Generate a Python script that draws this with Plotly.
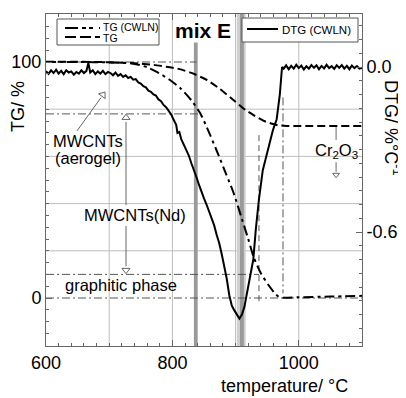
import plotly.graph_objects as go

# ---------------- data ----------------
tg_cwln_T = [600, 650, 700, 738, 760, 776, 795, 813, 830, 844, 855, 870, 885, 897,
             910, 920, 929, 940, 952, 962, 968, 975, 1000, 1050, 1100]
tg_cwln = [100.0, 100.0, 99.8, 99.3, 97.8, 95.7, 92.6, 88.8, 83.8, 78.3, 72.0, 62.5,
           52.5, 44.4, 33.5, 25.0, 17.0, 10.5, 5.5, 2.0, 0.6, 0.1, 0.3, 0.6, 0.9]

tg_T = [600, 650, 700, 740, 770, 790, 808, 830, 855, 875, 897, 915, 929, 945, 958,
        967, 980, 1000, 1100]
tg = [100.1, 100.1, 99.9, 99.5, 98.8, 98.0, 97.2, 95.4, 92.3, 88.6, 83.8, 79.8, 77.4,
      75.0, 73.8, 73.2, 72.9, 72.9, 72.9]

dtg_T = [600, 604, 608, 612, 616, 620, 624, 628, 632, 636, 640, 644, 648, 652, 656, 660,
         664, 667, 670, 674, 678, 682, 686, 690, 694, 698, 702, 706, 710, 714, 718, 722,
         726, 730, 734, 738, 742, 746, 750, 754, 758, 762, 766, 770, 774, 778, 782, 786,
         790, 794, 798, 802, 806, 808, 811, 814, 818, 822, 826, 830, 834, 838, 842, 846,
         850, 854, 858, 862, 866, 870, 874, 878, 882, 886, 890, 894, 898, 902, 906, 910,
         914, 918, 923, 928, 932, 937, 943, 951, 959, 965, 970, 973.5, 976, 980, 984,
         988, 992, 996, 1000, 1004, 1008, 1012, 1016, 1020, 1024, 1028, 1032, 1036,
         1040, 1044, 1048, 1052, 1056, 1060, 1064, 1068, 1072, 1076, 1080, 1084, 1088,
         1092, 1096, 1100]
dtg = [-0.015, -0.025, -0.012, -0.022, -0.010, -0.024, -0.014, -0.026, -0.012, -0.020,
       -0.016, -0.028, -0.018, -0.024, -0.012, -0.022, -0.014, 0.015, -0.020, -0.012,
       -0.026, -0.016, -0.024, -0.014, -0.026, -0.018, -0.022, -0.030, -0.020, -0.032,
       -0.026, -0.036, -0.030, -0.040, -0.036, -0.046, -0.044, -0.056, -0.060, -0.070,
       -0.074, -0.086, -0.090, -0.100, -0.104, -0.118, -0.124, -0.138, -0.146, -0.160,
       -0.172, -0.192, -0.210, -0.240, -0.236, -0.262, -0.282, -0.305, -0.322, -0.350,
       -0.372, -0.400, -0.428, -0.455, -0.478, -0.500, -0.526, -0.548, -0.575, -0.610,
       -0.640, -0.680, -0.720, -0.770, -0.830, -0.868, -0.885, -0.900, -0.915, -0.900,
       -0.872, -0.822, -0.760, -0.700, -0.590, -0.480, -0.375, -0.300, -0.230, -0.190,
       -0.100, 0.000, -0.006, 0.006, -0.008, 0.004, -0.006, 0.008, -0.004, 0.005, -0.009,
       0.003, -0.006, 0.007, -0.003, 0.006, -0.008, 0.004, -0.005, 0.008, -0.004, 0.003,
       -0.007, 0.006, -0.003, 0.007, -0.006, 0.004, -0.008, 0.005, -0.004, 0.003,
       -0.006, -0.004]

x_ticks = [600, 800, 1000]
x_ticklabels = ["600", "800", "1000"]
x_grid = [700, 800, 900, 1000]
tg_ticks = [0, 100]
tg_ticklabels = ["0", "100"]
tg_grid = [20, 40, 60, 80]
dtg_ticks = [0.0, -0.6]
dtg_ticklabels = ["0.0", "-0.6"]

# reference levels / markers used in the annotations
level_aerogel = 78.0
level_graphitic = 10.0
t_band1 = (834, 840)
t_band2 = (902, 916)
t_band2_dark = (907, 913)

FONT = "Liberation Sans, Arial, Helvetica, sans-serif"
# target page geometry (the page body has an 8px default margin)
PAGE_W, PAGE_H, OFF = 406, 398, 8
L, R, T, B = 46, 362, 14, 346


def px(x):
    return (x - L) / (R - L)


def py(y):
    return (B - y) / (B - T)


fig = go.Figure()

fig.add_trace(go.Scatter(x=tg_cwln_T, y=tg_cwln, mode="lines", yaxis="y",
                         line=dict(color="black", width=2, dash="10px,4px,3px,4px",
                                   shape="spline", smoothing=0.6)))
fig.add_trace(go.Scatter(x=tg_T, y=tg, mode="lines", yaxis="y",
                         line=dict(color="black", width=2, dash="8px,4px",
                                   shape="spline", smoothing=0.6)))
fig.add_trace(go.Scatter(x=dtg_T, y=dtg, mode="lines", yaxis="y2",
                         line=dict(color="black", width=2)))

# arrow heads (open triangles)
ARC = "#666"
fig.add_trace(go.Scatter(x=[690.1], y=[86.1], mode="markers", yaxis="y",
                         marker=dict(symbol="triangle-up-open", size=7, angle=36,
                                     color=ARC, line=dict(width=1, color=ARC))))
fig.add_trace(go.Scatter(x=[726.6], y=[76.4], mode="markers", yaxis="y",
                         marker=dict(symbol="triangle-up-open", size=7,
                                     color=ARC, line=dict(width=1, color=ARC))))
fig.add_trace(go.Scatter(x=[726.6], y=[11.8], mode="markers", yaxis="y",
                         marker=dict(symbol="triangle-down-open", size=7,
                                     color=ARC, line=dict(width=1, color=ARC))))
fig.add_trace(go.Scatter(x=[1059], y=[52.2], mode="markers", yaxis="y",
                         marker=dict(symbol="triangle-down-open", size=6,
                                     color=ARC, line=dict(width=1, color=ARC))))

GRID = "#bdbdbd"
shapes = []
for gx in x_grid:
    shapes.append(dict(type="line", xref="x", yref="paper", x0=gx, x1=gx, y0=0, y1=1,
                       line=dict(color=GRID, width=1), layer="below"))
for gy in tg_grid:
    shapes.append(dict(type="line", xref="paper", yref="y", x0=0, x1=1, y0=gy, y1=gy,
                       line=dict(color=GRID, width=1), layer="below"))

# grey vertical bands
shapes.append(dict(type="rect", xref="x", yref="paper", x0=t_band1[0], x1=t_band1[1],
                   y0=0, y1=py(42), fillcolor="#9a9a9a", line=dict(width=0), layer="between"))
shapes.append(dict(type="rect", xref="x", yref="paper", x0=t_band2[0], x1=t_band2[1],
                   y0=0, y1=1, fillcolor="#cfcfcf", line=dict(width=0), layer="between"))
shapes.append(dict(type="rect", xref="x", yref="paper", x0=t_band2_dark[0], x1=t_band2_dark[1],
                   y0=0, y1=1, fillcolor="#9a9a9a", line=dict(width=0), layer="between"))


def dl(x0, y0, x1, y1, dash="8px,3px,2px,3px", color="#555", width=1):
    shapes.append(dict(type="line", xref="x", yref="y", x0=x0, y0=y0, x1=x1, y1=y1,
                       line=dict(color=color, width=width, dash=dash), layer="between"))


dl(600, 100, 838, 100)
dl(600, level_aerogel, 844, level_aerogel)
dl(600, level_graphitic, 937, level_graphitic)
dl(600, 0, 1100, 0)
dl(937, 69, 937, -3, dash="6px,4px")
dl(975, 85, 975, 2)
# arrows shafts
dl(649, 70.8, 687, 84.9, dash="solid", color=ARC)
dl(726.6, 74.6, 726.6, 39.4, dash="solid", color=ARC)
dl(726.6, 30.5, 726.6, 13.4, dash="solid", color=ARC)
dl(1059, 73, 1059, 67, dash="solid", color=ARC)
dl(1059, 57.5, 1059, 53.5, dash="solid", color=ARC)

# legend boxes
shapes.append(dict(type="rect", xref="paper", yref="paper", x0=px(57), x1=px(159),
                   y0=py(45), y1=py(19), fillcolor="white", line=dict(color="#555", width=1),
                   layer="above"))
shapes.append(dict(type="rect", xref="paper", yref="paper", x0=px(242), x1=px(358),
                   y0=py(42), y1=py(18), fillcolor="white", line=dict(color="#555", width=1),
                   layer="above"))
shapes.append(dict(type="line", xref="paper", yref="paper", x0=px(65), x1=px(100),
                   y0=py(28), y1=py(28), line=dict(color="black", width=2,
                                                   dash="13px,4px,4px,3px,4px,6px"),
                   layer="above"))
shapes.append(dict(type="line", xref="paper", yref="paper", x0=px(65), x1=px(100),
                   y0=py(37), y1=py(37), line=dict(color="black", width=2, dash="11px,4px"),
                   layer="above"))
shapes.append(dict(type="line", xref="paper", yref="paper", x0=px(247), x1=px(278),
                   y0=py(29), y1=py(29), line=dict(color="black", width=2), layer="above"))

anns = []


def txt(x, y, s, size=16.5, **kw):
    d = dict(xref="paper", yref="paper", x=px(x), y=py(y), text=s, showarrow=False,
             font=dict(family=FONT, size=size, color="black"),
             xanchor="center", yanchor="middle")
    d.update(kw)
    anns.append(d)


txt(101, 27.5, "TG (CWLN)", size=10.5, xanchor="left")
txt(101, 38, "TG", size=10.5, xanchor="left")
txt(280, 29.5, "DTG (CWLN)", size=11.5, xanchor="left")
txt(202.5, 30, "<b>mix E</b>", size=21, bgcolor="white", borderpad=0)
txt(88, 141, "MWCNTs")
txt(88, 158, "(aerogel)")
txt(135, 215, "MWCNTs(Nd)")
txt(121, 285, "graphitic phase")
txt(336, 151, "Cr<sub>2</sub>O<sub>3</sub>", size=16.5)
txt(284, 386, "temperature/ °C", size=18)
txt(18, 107, "TG/ %", size=18, textangle=-90)
txt(393, 127, "DTG/ %°C<sup>-1</sup>", size=18, textangle=90)

AX = "#666"
fig.update_layout(
    width=PAGE_W - OFF, height=PAGE_H - OFF,
    margin=dict(l=L - OFF, r=PAGE_W - R, t=T - OFF, b=PAGE_H - B, pad=0),
    paper_bgcolor="white", plot_bgcolor="white",
    showlegend=False,
    font=dict(family=FONT, size=18, color="black"),
    xaxis=dict(range=[600, 1100], tickmode="array", tickvals=x_ticks, ticktext=x_ticklabels,
               ticks="inside", ticklen=6, tickcolor=AX, showline=True, linecolor=AX,
               linewidth=1, mirror="ticks", showgrid=False, automargin=False,
               zeroline=False, tickfont=dict(size=18),
               minor=dict(tickmode="linear", tick0=600, dtick=20, ticks="inside",
                          ticklen=3, tickcolor=AX, showgrid=False)),
    yaxis=dict(range=[-20.34, 120.34], tickmode="array", tickvals=tg_ticks,
               ticktext=tg_ticklabels, ticks="inside", ticklen=6, tickcolor=AX,
               showline=True, linecolor=AX, linewidth=1, mirror=False, showgrid=False,
               automargin=False, zeroline=False, tickfont=dict(size=18),
               minor=dict(tickmode="linear", tick0=0, dtick=5, ticks="inside",
                          ticklen=3, tickcolor=AX, showgrid=False)),
    yaxis2=dict(range=[-1.0145, 0.1927], overlaying="y", side="right", tickmode="array",
                tickvals=dtg_ticks, ticktext=dtg_ticklabels, ticks="inside", ticklen=6,
                tickcolor=AX, showline=True, linecolor=AX, linewidth=1, showgrid=False,
                automargin=False, zeroline=False, tickfont=dict(size=18),
                minor=dict(tickmode="linear", tick0=0, dtick=0.05, ticks="inside",
                           ticklen=3, tickcolor=AX, showgrid=False)),
    shapes=shapes,
    annotations=anns,
)

fig.write_html("out.html")
